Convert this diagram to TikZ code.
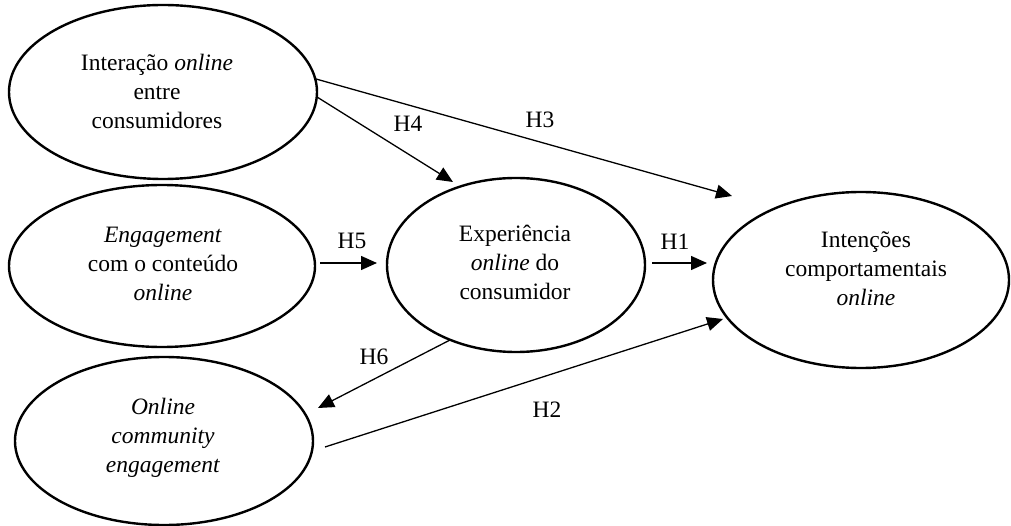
\documentclass[tikz,border=0pt]{standalone}
\usepackage{fontspec}
\setmainfont{Liberation Serif}
\usetikzlibrary{shapes.geometric,arrows.meta}
\begin{document}
\begin{tikzpicture}[x=1pt,y=-1pt,
  construct/.style={draw,ellipse,line width=2.4pt,inner sep=0pt},
  txt/.style={align=center,font=\fontsize{23.5}{29}\selectfont},
  lbl/.style={font=\fontsize{23.5}{29}\selectfont,inner sep=0pt},
  arr/.style={line width=1.3pt,-{Triangle[length=16pt,width=14pt]}}]
\useasboundingbox (0,0) rectangle (1011,526);
% constructs
\node[construct,minimum width=308pt,minimum height=174pt] (e1) at (163,92) {};
\node[construct,minimum width=306pt,minimum height=162pt] (e2) at (162,266) {};
\node[construct,minimum width=298pt,minimum height=168pt] (e3) at (164,441) {};
\node[construct,minimum width=258pt,minimum height=174pt] (e4) at (516,265) {};
\node[construct,minimum width=296pt,minimum height=176pt] (e5) at (861,280) {};
\node[txt] (t1) at (157,91) {Interação \textit{online}\\entre\\consumidores};
\node[txt] (t2) at (163,264) {\textit{Engagement}\\com o conteúdo\\\textit{online}};
\node[txt] (t3) at (163,438) {\textit{Online}\\\textit{community}\\\textit{engagement}};
\node[txt] (t4) at (515,262) {Experiência\\\textit{online} do\\consumidor};
\node[txt] (t5) at (866,269) {Intenções\\comportamentais\\\textit{online}};
% connector end points
\coordinate (h3s) at (316,79);  \coordinate (h3e) at (732,196);
\coordinate (h4s) at (317,97);  \coordinate (h4e) at (453,182);
\coordinate (h5s) at (320,263); \coordinate (h5e) at (377,263);
\coordinate (h1s) at (652,263); \coordinate (h1e) at (707,263);
\coordinate (h6s) at (450,340); \coordinate (h6e) at (318,408);
\coordinate (h2s) at (325,447); \coordinate (h2e) at (723,319);
% connectors
\draw[arr] (h3s) -- (h3e);
\draw[arr] (h4s) -- (h4e);
\draw[arr] (h5s) -- (h5e);
\draw[arr] (h1s) -- (h1e);
\draw[arr] (h6s) -- (h6e);
\draw[arr] (h2s) -- (h2e);
% labels
\node[lbl] (l3) at (540,120) {H3};
\node[lbl] (l4) at (408,124) {H4};
\node[lbl] (l5) at (352,241) {H5};
\node[lbl] (l1) at (675,242) {H1};
\node[lbl] (l6) at (374,357) {H6};
\node[lbl] (l2) at (547,410) {H2};
\end{tikzpicture}
\end{document}
